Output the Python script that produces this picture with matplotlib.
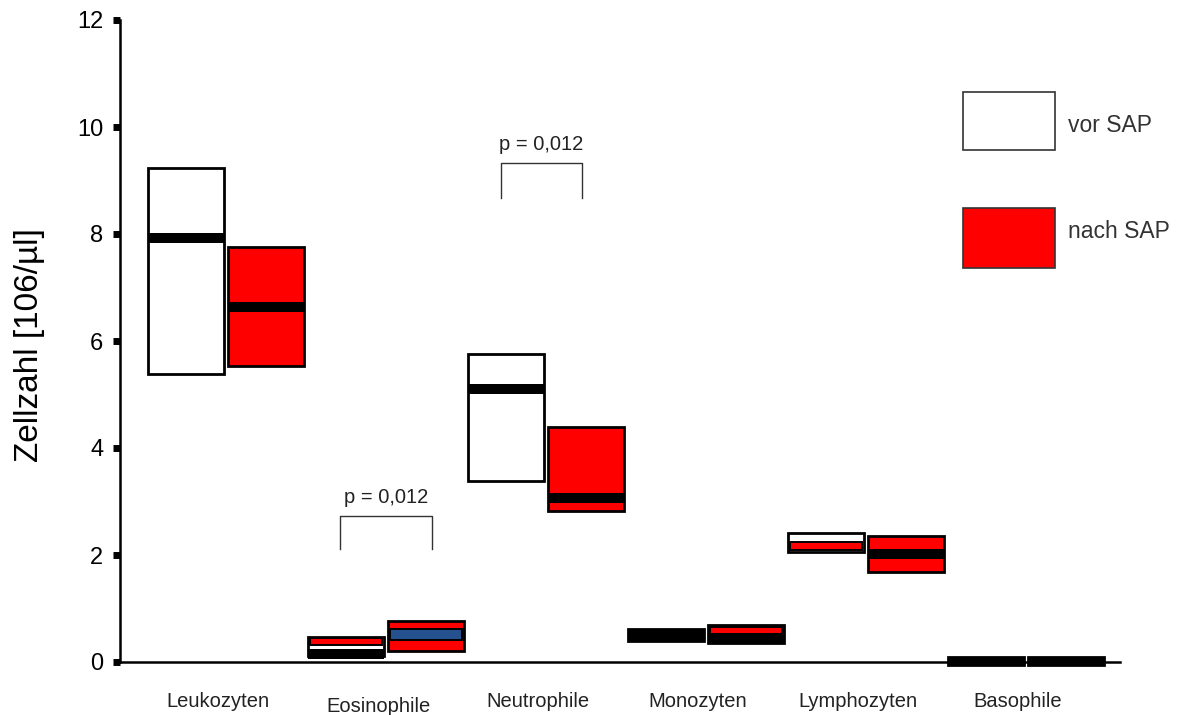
import matplotlib
matplotlib.use("Agg")
import matplotlib.pyplot as plt
from matplotlib.patches import Rectangle
import numpy as np

plt.rcParams['font.family'] = ['Liberation Sans', 'DejaVu Sans']

categories = ['Leukozyten', 'Eosinophile', 'Neutrophile',
              'Monozyten', 'Lymphozyten', 'Basophile']

# box ranges (lower / upper) and medians, before and after SAP
vor_lo = [5.38, 0.11, 3.38, 0.39, 2.06, -0.05]
vor_hi = [9.23, 0.47, 5.76, 0.62, 2.41, 0.09]
vor_med = [7.93, 0.15, 5.10, np.nan, np.nan, np.nan]
vor_fill = ['white', 'white', 'white', 'black', 'white', 'black']

nach_lo = [5.53, 0.21, 2.82, 0.35, 1.68, -0.05]
nach_hi = [7.76, 0.77, 4.39, 0.69, 2.36, 0.09]
nach_med = [6.64, np.nan, 3.07, np.nan, 2.02, np.nan]
nach_fill = ['red', 'red', 'red', 'black', 'red', 'black']

# extra coloured bands inside some boxes: (category, group, lo, hi, colour)
bands = [
    (1, 'vor', 0.31, 0.44, 'red'),
    (1, 'nach', 0.42, 0.61, '#25528f'),
    (3, 'nach', 0.52, 0.66, 'red'),
    (4, 'vor', 2.10, 2.24, 'red'),
]

# significance brackets: (x left, x right, leg bottom, top, label)
brackets = [
    (0.71, 1.29, 2.11, 2.73, 'p = 0,012'),
    (1.72, 2.225, 8.67, 9.33, 'p = 0,012'),
]

W, H = 1184, 715
fig = plt.figure(figsize=(W / 100, H / 100), dpi=100)
ax = fig.add_axes([120 / W, 53 / H, 1000 / W, 642 / H])

box_w = 0.47
off = {'vor': -0.25, 'nach': 0.25}
med_h = 0.18


def draw_group(grp, lo, hi, med, fill):
    for i in range(len(categories)):
        x0 = i + off[grp] - box_w / 2
        ax.add_patch(Rectangle((x0, lo[i]), box_w, hi[i] - lo[i],
                               facecolor=fill[i], edgecolor='black',
                               lw=2.0, clip_on=False, zorder=2))
        if not np.isnan(med[i]):
            ax.add_patch(Rectangle((x0, med[i] - med_h / 2), box_w, med_h,
                                   facecolor='black', edgecolor='none',
                                   clip_on=False, zorder=3))


draw_group('vor', vor_lo, vor_hi, vor_med, vor_fill)
draw_group('nach', nach_lo, nach_hi, nach_med, nach_fill)

for i, grp, lo, hi, col in bands:
    inset = 0.012
    x0 = i + off[grp] - box_w / 2 + inset
    ax.add_patch(Rectangle((x0, lo), box_w - 2 * inset, hi - lo,
                           facecolor=col, edgecolor='black', lw=1.4,
                           clip_on=False, zorder=4))

for xl, xr, yb, yt, label in brackets:
    ax.plot([xl, xl, xr, xr], [yb, yt, yt, yb], color='#333333', lw=1.0,
            zorder=2)
    ax.text((xl + xr) / 2, yt + 0.24, label, ha='center', va='baseline',
            fontsize=14.5, color='#222222')

ax.set_xlim(-0.6625, 5.5875)
ax.set_ylim(0, 12)

for s in ['top', 'right']:
    ax.spines[s].set_visible(False)
ax.spines['left'].set_linewidth(1.8)
ax.spines['bottom'].set_linewidth(1.8)

ax.set_yticks(np.arange(0, 13, 2))
ax.tick_params(axis='y', direction='out', length=5, width=5, pad=7,
               labelsize=17)
ax.set_xticks([])

for i, name in enumerate(categories):
    y = -0.078 if name == 'Eosinophile' else -0.070
    ax.text(i - 0.05, y, name, transform=ax.get_xaxis_transform(),
            ha='center', va='baseline', fontsize=14.5, color='#222222')

ax.set_ylabel('Zellzahl [106/µl]', fontsize=24, va='center')
ax.yaxis.set_label_coords(-0.09, 0.494)

# legend boxes on the right
fig.add_artist(Rectangle((963 / W, 1 - 150 / H), 92 / W, 58 / H,
                         facecolor='white', edgecolor='#333333', lw=1.2,
                         transform=fig.transFigure))
fig.text(1068 / W, 1 - 125 / H, 'vor SAP', fontsize=16.5, va='center',
         color='#333333')
fig.add_artist(Rectangle((963 / W, 1 - 268 / H), 92 / W, 60 / H,
                         facecolor='red', edgecolor='#333333', lw=1.2,
                         transform=fig.transFigure))
fig.text(1068 / W, 1 - 232 / H, 'nach SAP', fontsize=16.5, va='center',
         color='#333333')

fig.savefig('out.png', dpi=100)
